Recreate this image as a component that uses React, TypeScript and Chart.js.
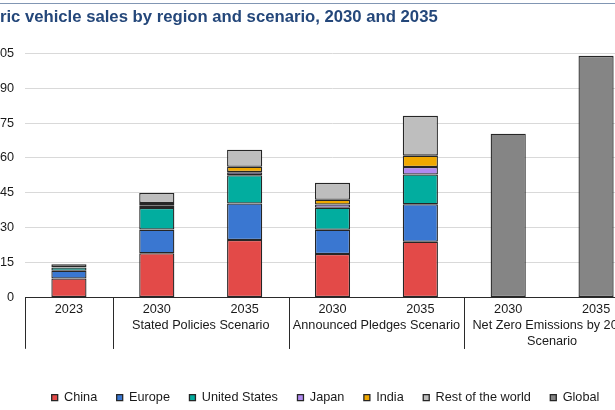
import React, { useEffect, useRef } from 'react';
import { Chart, registerables } from 'chart.js';

Chart.register(...registerables);

const FONT = '"Liberation Sans", Arial, sans-serif';

const titleText = 'Electric vehicle sales by region and scenario, 2030 and 2035';
const categories = ['2023', '2030', '2035', '2030', '2035', '2030', '2035'];
const groupLabels: string[][] = [
  [],
  ['Stated Policies Scenario'],
  ['Announced Pledges Scenario'],
  ['Net Zero Emissions by 2050', 'Scenario'],
];
const groupSpans: number[][] = [
  [0, 0],
  [1, 2],
  [3, 4],
  [5, 6],
];

const china = [8.2, 19.0, 24.7, 18.7, 24.0, null, null];
const europe = [3.3, 10.2, 15.7, 10.4, 16.1, null, null];
const unitedStates = [1.4, 9.3, 12.2, 9.5, 12.8, null, null];
const japan = [0.1, 1.0, 1.3, 1.4, 3.2, null, null];
const india = [0.1, 1.15, 2.3, 2.0, 4.9, null, null];
const restOfWorld = [1.2, 4.3, 7.3, 7.3, 17.1, null, null];
const globalSales = [null, null, null, null, null, 70.4, 103.9];

const yMin = 0;
const yMax = 105;
const yStep = 15;

const seriesNames = ['China', 'Europe', 'United States', 'Japan', 'India', 'Rest of the world', 'Global'];
const seriesColors = ['#E34A48', '#3A77D1', '#02AD9F', '#B08AEF', '#F0A800', '#BEBEBE', '#858585'];
const seriesData = [china, europe, unitedStates, japan, india, restOfWorld, globalSales];

const groupPlugin = {
  id: 'groupLabels',
  beforeDraw(chart: any) {
    const { ctx, width } = chart;
    ctx.save();
    ctx.fillStyle = '#ffffff';
    ctx.fillRect(0, 0, width, chart.height);
    ctx.strokeStyle = '#8196b3';
    ctx.lineWidth = 1.2;
    ctx.beginPath();
    ctx.moveTo(0, 3.5);
    ctx.lineTo(width, 3.5);
    ctx.stroke();
    ctx.fillStyle = '#24477a';
    ctx.font = `bold 16.7px ${FONT}`;
    ctx.textAlign = 'left';
    ctx.textBaseline = 'middle';
    ctx.fillText(titleText, -3, 17.6);
    ctx.restore();
  },
  afterDraw(chart: any) {
    const { ctx, chartArea } = chart;
    const x = chart.scales.x;
    const b = chartArea.bottom;
    const n = categories.length;
    const boundary = (i: number) =>
      i <= 0 ? chartArea.left : i >= n ? chartArea.right : (x.getPixelForValue(i - 1) + x.getPixelForValue(i)) / 2;
    ctx.save();
    ctx.strokeStyle = '#2a2a2a';
    ctx.lineWidth = 1;
    ctx.fillStyle = '#1a1a1a';
    ctx.font = `12.7px ${FONT}`;
    ctx.textAlign = 'center';
    ctx.textBaseline = 'middle';
    groupSpans.forEach(([s, e], gi) => {
      [s, e + 1].forEach((i) => {
        const px = Math.round(boundary(i)) + 0.5;
        ctx.beginPath();
        ctx.moveTo(px, b);
        ctx.lineTo(px, b + 51.3);
        ctx.stroke();
      });
      const cx = (x.getPixelForValue(s) + x.getPixelForValue(e)) / 2;
      groupLabels[gi].forEach((t, li) => {
        ctx.fillText(t, cx, b + 28.3 + li * 15.7);
      });
    });
    ctx.restore();
  },
};

export default function App() {
  const ref = useRef<HTMLCanvasElement | null>(null);

  useEffect(() => {
    if (!ref.current) return;
    const chart = new Chart(ref.current, {
      type: 'bar',
      data: {
        labels: categories,
        datasets: seriesNames.map((name, i) => ({
          label: name,
          data: seriesData[i] as any,
          backgroundColor: seriesColors[i],
          borderColor: '#262626',
          borderWidth: 1.3,
          borderSkipped: false,
          inflateAmount: 0,
          barPercentage: 0.8,
          categoryPercentage: 0.5,
        })),
      },
      options: {
        responsive: false,
        animation: false,
        devicePixelRatio: 1,
        layout: { padding: { top: 53.3, left: 0, right: 0, bottom: 0 } },
        plugins: {
          title: { display: false },
          legend: {
            position: 'bottom',
            labels: {
              boxWidth: 6,
              boxHeight: 6,
              padding: 19.5,
              color: '#1a1a1a',
              font: { family: FONT, size: 12.7 },
            },
          },
          tooltip: { enabled: false },
        },
        scales: {
          x: {
            stacked: true,
            grid: { display: false, drawTicks: false },
            border: { display: true, color: '#2a2a2a', width: 1 },
            ticks: { color: '#1a1a1a', font: { family: FONT, size: 12.7 }, padding: 4, maxRotation: 0, autoSkip: false },
            afterFit: (s: any) => {
              s.height = 74.3;
            },
          },
          y: {
            stacked: true,
            min: yMin,
            max: yMax,
            ticks: { stepSize: yStep, color: '#1a1a1a', font: { family: FONT, size: 12.7 }, padding: 11 },
            grid: { color: '#d9d9d9', lineWidth: 1, drawTicks: false },
            border: { display: false },
            afterFit: (s: any) => {
              s.width = 62;
            },
          },
          y2: {
            type: 'linear',
            position: 'right',
            display: true,
            grid: { display: false, drawTicks: false },
            border: { display: false },
            ticks: { display: false },
            afterFit: (s: any) => {
              s.width = 48;
            },
          },
        },
      } as any,
      plugins: [groupPlugin],
    });
    return () => chart.destroy();
  }, []);

  return (
    <div
      style={{
        position: 'fixed',
        left: 0,
        top: 0,
        width: 615,
        height: 410,
        overflow: 'hidden',
        background: '#fff',
      }}
    >
      <canvas
        ref={ref}
        width={725}
        height={414}
        style={{ position: 'absolute', left: -37, top: 0, width: 725, height: 414 }}
      />
    </div>
  );
}
